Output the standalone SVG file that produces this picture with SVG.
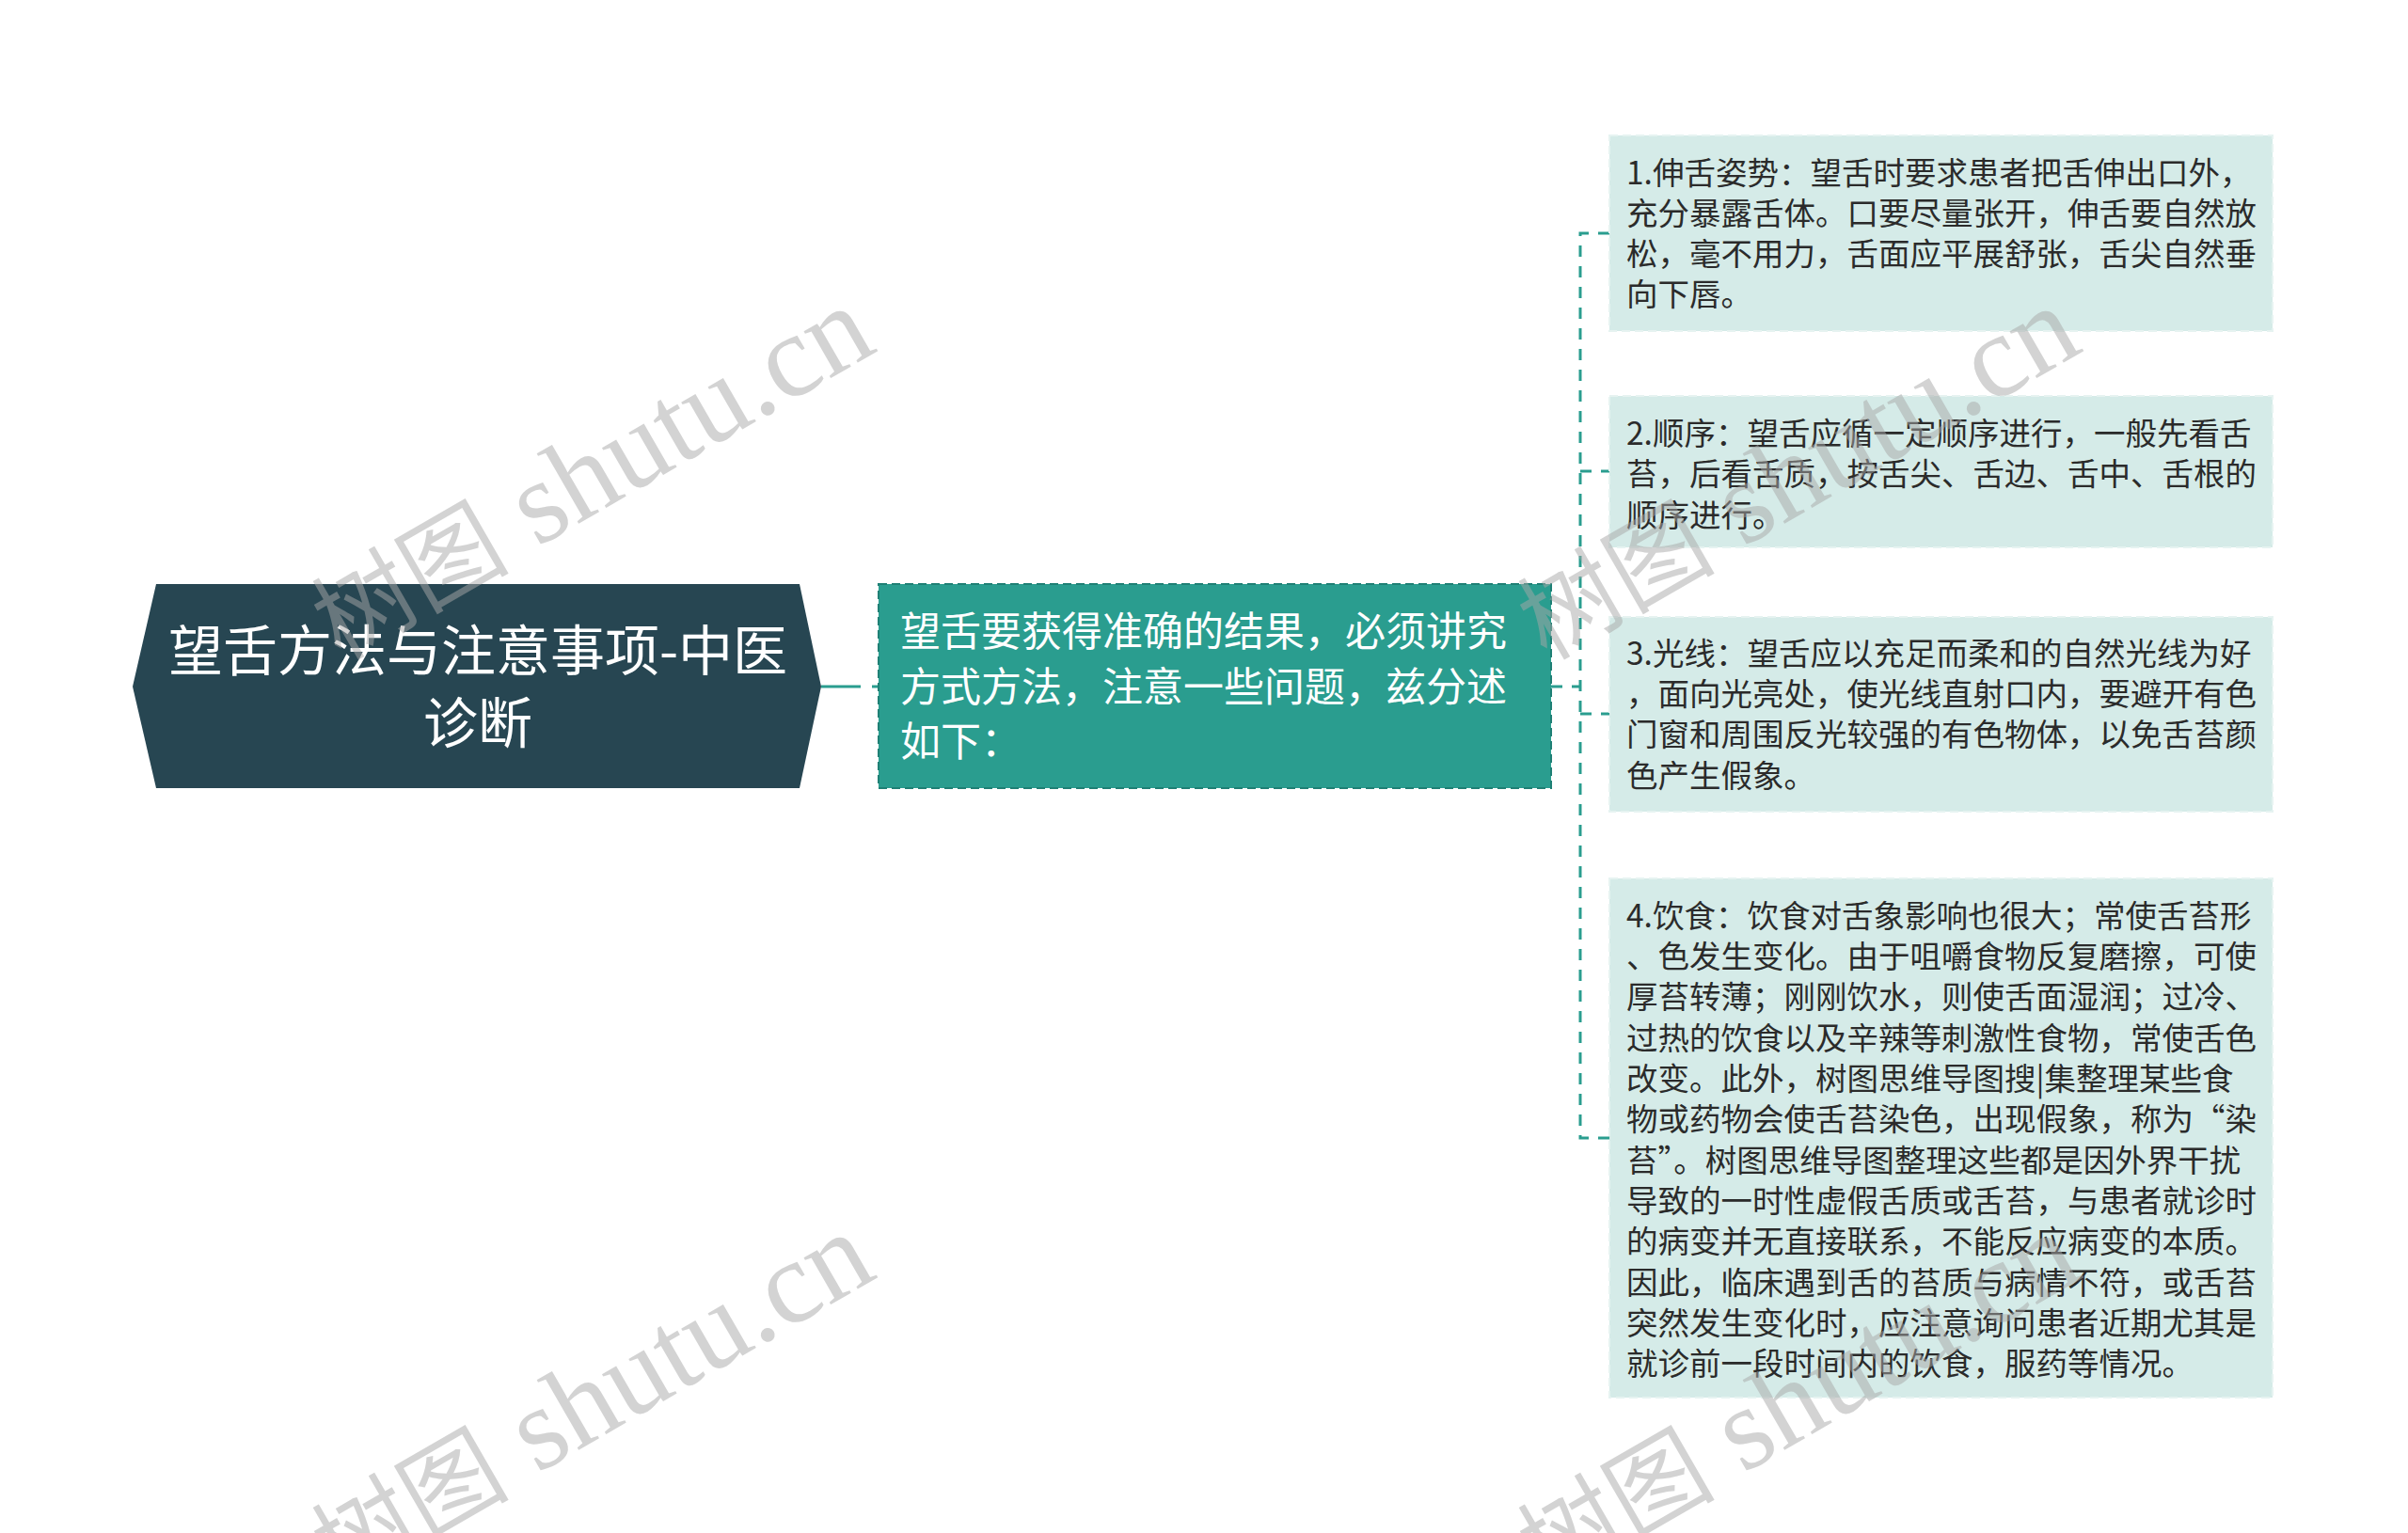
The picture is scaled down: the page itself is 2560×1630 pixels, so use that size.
<svg xmlns="http://www.w3.org/2000/svg" width="2560" height="1630" viewBox="0 0 2560 1630">
<style>
.root-t{font-family:"Noto Sans CJK SC","Noto Sans",sans-serif;font-size:58px;fill:#ffffff;text-anchor:middle}
.mid-t{font-family:"Noto Sans CJK SC","Noto Sans",sans-serif;font-size:43px;fill:#ffffff}
.leaf-t{font-family:"Noto Sans CJK SC","Noto Sans",sans-serif;font-size:33.5px;fill:#2b2b2b}
.leaf{fill:#d5ebe8;stroke:#e6f3f1;stroke-width:2;stroke-dasharray:9 5}
.conn{fill:none;stroke:#2a9d8f;stroke-width:3}
.wm{font-family:"Liberation Serif","Noto Sans CJK SC",serif;font-size:125px;fill:#a8a8a8;opacity:0.5}
.wm-cjk{font-family:"Noto Sans CJK SC",serif;font-size:105px}
</style>
<rect width="2560" height="1630" fill="#ffffff"/>
<g id="connectors">
<path class="conn" d="M873,730 H915 M927,730 H934"/>
<path class="conn" stroke-dasharray="12 10" d="M1649,730 H1680 M1711,248 H1680 V1210 H1711 M1680,501 H1711 M1680,759 H1711"/>
</g>
<g id="root">
<polygon points="141,730 166,621 850,621 873,730 850,838 166,838" fill="#274652"/>
<text class="root-t"><tspan x="508" y="713">望舌方法与注意事项-中医</tspan><tspan x="508" y="790">诊断</tspan></text>
</g>
<g id="middle">
<rect x="934" y="621" width="715" height="217" fill="#2a9d8f" stroke="#1f8075" stroke-width="2" stroke-dasharray="9 5"/>
<text class="mid-t"><tspan x="957" y="687">望舌要获得准确的结果，必须讲究</tspan><tspan x="957" y="746">方式方法，注意一些问题，兹分述</tspan><tspan x="957" y="804">如下：</tspan></text>
</g>
<g id="leaf1">
<rect class="leaf" x="1711" y="144" width="705" height="208"/>
<text class="leaf-t"><tspan x="1729" y="196">1.伸舌姿势：望舌时要求患者把舌伸出口外，</tspan><tspan x="1729" y="239">充分暴露舌体。口要尽量张开，伸舌要自然放</tspan><tspan x="1729" y="282">松，毫不用力，舌面应平展舒张，舌尖自然垂</tspan><tspan x="1729" y="325">向下唇。</tspan></text>
</g>
<g id="leaf2">
<rect class="leaf" x="1711" y="421" width="705" height="161"/>
<text class="leaf-t"><tspan x="1729" y="473">2.顺序：望舌应循一定顺序进行，一般先看舌</tspan><tspan x="1729" y="516">苔，后看舌质，按舌尖、舌边、舌中、舌根的</tspan><tspan x="1729" y="560">顺序进行。</tspan></text>
</g>
<g id="leaf3">
<rect class="leaf" x="1711" y="656" width="705" height="207"/>
<text class="leaf-t"><tspan x="1729" y="707">3.光线：望舌应以充足而柔和的自然光线为好</tspan><tspan x="1729" y="750">，面向光亮处，使光线直射口内，要避开有色</tspan><tspan x="1729" y="793">门窗和周围反光较强的有色物体，以免舌苔颜</tspan><tspan x="1729" y="837">色产生假象。</tspan></text>
</g>
<g id="leaf4">
<rect class="leaf" x="1711" y="934" width="705" height="552"/>
<text class="leaf-t"><tspan x="1729" y="986">4.饮食：饮食对舌象影响也很大；常使舌苔形</tspan><tspan x="1729" y="1029">、色发生变化。由于咀嚼食物反复磨擦，可使</tspan><tspan x="1729" y="1072">厚苔转薄；刚刚饮水，则使舌面湿润；过冷、</tspan><tspan x="1729" y="1116">过热的饮食以及辛辣等刺激性食物，常使舌色</tspan><tspan x="1729" y="1159">改变。此外，树图思维导图搜|集整理某些食</tspan><tspan x="1729" y="1202">物或药物会使舌苔染色，出现假象，称为“染</tspan><tspan x="1729" y="1246">苔”。树图思维导图整理这些都是因外界干扰</tspan><tspan x="1729" y="1289">导致的一时性虚假舌质或舌苔，与患者就诊时</tspan><tspan x="1729" y="1332">的病变并无直接联系，不能反应病变的本质。</tspan><tspan x="1729" y="1376">因此，临床遇到舌的苔质与病情不符，或舌苔</tspan><tspan x="1729" y="1419">突然发生变化时，应注意询问患者近期尤其是</tspan><tspan x="1729" y="1462">就诊前一段时间内的饮食，服药等情况。</tspan></text>
</g>
<g id="watermarks">
<text class="wm" transform="translate(362,703) rotate(-30)"><tspan class="wm-cjk">树图</tspan> shutu.cn</text>
<text class="wm" transform="translate(1644,703) rotate(-30)"><tspan class="wm-cjk">树图</tspan> shutu.cn</text>
<text class="wm" transform="translate(362,1688) rotate(-30)"><tspan class="wm-cjk">树图</tspan> shutu.cn</text>
<text class="wm" transform="translate(1644,1688) rotate(-30)"><tspan class="wm-cjk">树图</tspan> shutu.cn</text>
</g>
</svg>
